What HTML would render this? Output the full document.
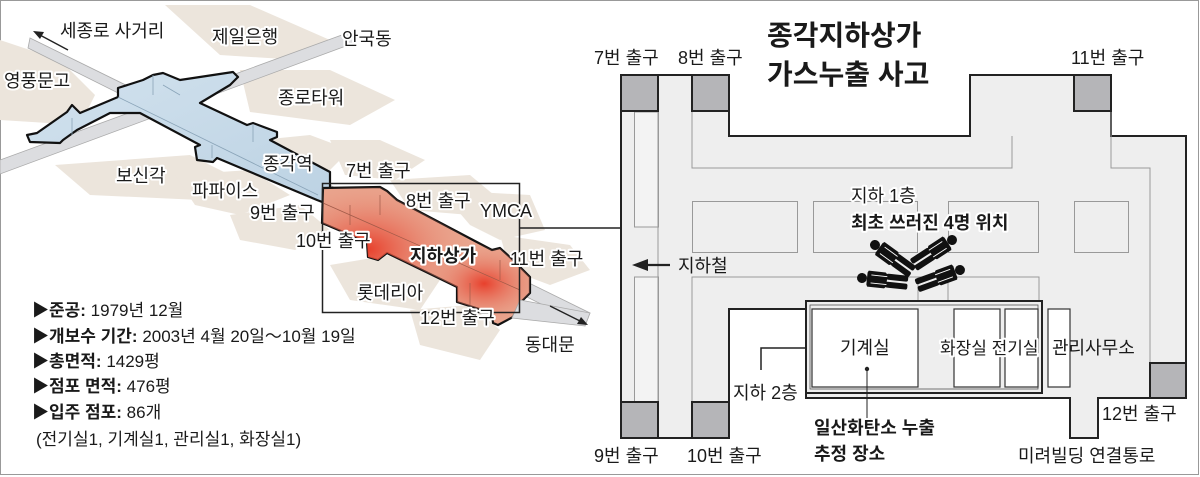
<!DOCTYPE html>
<html><head><meta charset="utf-8"><style>
html,body{margin:0;padding:0;background:#fff;}
svg{display:block;}
text{font-family:"Liberation Sans","Noto Sans CJK KR",sans-serif;fill:#1a1a1a;}
.t{font-size:18px;}
.s{font-size:17px;}
.b{font-weight:bold;}
.halo{stroke:#fff;stroke-width:4px;paint-order:stroke;stroke-linejoin:round;}
</style></head><body>
<svg width="1200" height="477" viewBox="0 0 1200 477" xmlns="http://www.w3.org/2000/svg">
<defs>
<radialGradient id="rg1" cx="0.22" cy="0.45" r="0.5"><stop offset="0" stop-color="#e8402c"/><stop offset="1" stop-color="#e89a84" stop-opacity="0"/></radialGradient>
<radialGradient id="rg2" cx="0.78" cy="0.7" r="0.3"><stop offset="0" stop-color="#e8402c"/><stop offset="1" stop-color="#e89a84" stop-opacity="0"/></radialGradient>
<linearGradient id="bl" x1="0" y1="0" x2="1" y2="1"><stop offset="0" stop-color="#d2e2ee"/><stop offset="1" stop-color="#bcd2e3"/></linearGradient>
<g id="man">
 <circle cx="0" cy="0" r="5" fill="#111"/>
 <path d="M6,-8 L23,-8 L25,-6 L25,6 L23,8 L6,8 L5,6 L5,-6 Z" fill="#111"/>
 <rect x="24" y="-7" width="22" height="6" rx="2" fill="#111"/>
 <rect x="24" y="1" width="22" height="6" rx="2" fill="#111"/>
 <line x1="9" y1="-4" x2="25" y2="-4" stroke="#fff" stroke-width="0.9"/>
 <line x1="9" y1="4" x2="25" y2="4" stroke="#fff" stroke-width="0.9"/>
</g>
</defs>
<rect x="0.5" y="0.5" width="1198" height="474" fill="#fff" stroke="#999" stroke-width="1"/>

<!-- ===== LEFT MAP ===== -->
<g fill="#ece5dc">
 <polygon points="0,40 60,60 95,95 80,125 0,120"/>
 <polygon points="165,5 250,5 330,40 300,60 220,55"/>
 <polygon points="240,70 330,70 395,100 350,125 250,112"/>
 <polygon points="260,140 310,135 350,150 330,170 285,165"/>
 <polygon points="330,140 380,140 425,160 395,180 345,175"/>
 <polygon points="55,165 190,155 240,180 200,200 90,195"/>
 <polygon points="175,175 250,170 290,195 240,215 195,205"/>
 <polygon points="230,215 300,205 330,230 295,250 240,240"/>
 <polygon points="390,180 470,175 500,200 470,215 410,210"/>
 <polygon points="440,190 530,195 545,230 500,240 470,225"/>
 <polygon points="500,235 570,245 590,270 550,285 510,270"/>
 <polygon points="330,265 390,255 440,280 420,310 350,300"/>
 <polygon points="410,310 470,305 500,330 480,360 420,345"/>
</g>
<polygon points="30,38 590,313 585,326 28,48" fill="#dcdde0" stroke="#aaa" stroke-width="0.8"/>
<polygon points="0,160 350,32 354,43 0,174" fill="#dcdde0" stroke="#aaa" stroke-width="0.8"/>
<polygon points="118,88 143,80 153,75 163,73 180,80 233,72 238,77 230,85 200,103 247,125 253,123 277,132 277,137 270,140 330,172 330,205 317,200 217,158 213,162 197,160 195,147 200,145 140,113 110,113 77,130 63,140 60,143 30,142 27,135 37,133 67,112 72,105 80,113 118,97" fill="url(#bl)" stroke="#111" stroke-width="2.2" stroke-linejoin="round"/>
<g stroke="#8aa4b8" stroke-width="0.8" fill="none">
 <line x1="118" y1="97" x2="318" y2="195"/><line x1="153" y1="75" x2="153" y2="95"/>
 <line x1="163" y1="85" x2="180" y2="95"/><line x1="212" y1="145" x2="212" y2="158"/>
 <line x1="253" y1="125" x2="253" y2="142"/><line x1="72" y1="118" x2="72" y2="135"/>
</g>
<polygon points="323,188 380,187 387,191 397,200 492,250 500,248 513,260 530,277 530,293 520,303 513,317 498,325 493,323 492,313 457,302 457,287 387,253 378,260 368,257 367,242 322,223" fill="#e9a58e" stroke="#111" stroke-width="2.2" stroke-linejoin="round"/>
<polygon points="323,188 380,187 387,191 397,200 492,250 500,248 513,260 530,277 530,293 520,303 513,317 498,325 493,323 492,313 457,302 457,287 387,253 378,260 368,257 367,242 322,223" fill="url(#rg1)"/>
<polygon points="323,188 380,187 387,191 397,200 492,250 500,248 513,260 530,277 530,293 520,303 513,317 498,325 493,323 492,313 457,302 457,287 387,253 378,260 368,257 367,242 322,223" fill="url(#rg2)"/>
<g stroke="#a05a48" stroke-width="0.7" fill="none">
 <line x1="323" y1="203" x2="520" y2="290"/><line x1="350" y1="205" x2="350" y2="225"/>
 <line x1="380" y1="195" x2="380" y2="215"/><line x1="470" y1="283" x2="470" y2="305"/>
 <line x1="500" y1="260" x2="500" y2="280"/>
</g>
<polygon points="520,300 590,313 585,326 512,318" fill="#dcdde0" stroke="#aaa" stroke-width="0.8"/>
<rect x="322.5" y="183.5" width="197" height="129" fill="none" stroke="#222" stroke-width="1.5"/>
<line x1="520" y1="228" x2="621" y2="228" stroke="#222" stroke-width="1.5"/>
<line x1="68" y1="50" x2="38" y2="34" stroke="#222" stroke-width="1.4"/>
<polygon points="33,31 44,32 40,39" fill="#222"/>
<line x1="550" y1="306" x2="582" y2="322" stroke="#222" stroke-width="1.4"/>
<polygon points="588,325 577,324 581,317" fill="#222"/>

<g class="t halo">
<text x="60" y="37">세종로 사거리</text>
<text x="212" y="43">제일은행</text>
<text x="342" y="45">안국동</text>
<text x="4" y="87">영풍문고</text>
<text x="278" y="104">종로타워</text>
<text x="263" y="170">종각역</text>
<text x="346" y="177">7번 출구</text>
<text x="116" y="182">보신각</text>
<text x="192" y="197">파파이스</text>
<text x="406" y="207">8번 출구</text>
<text x="480" y="217">YMCA</text>
<text x="250" y="219">9번 출구</text>
<text x="296" y="247">10번 출구</text>
<text x="410" y="262" class="b">지하상가</text>
<text x="510" y="265">11번 출구</text>
<text x="357" y="299">롯데리아</text>
<text x="420" y="324">12번 출구</text>
<text x="525" y="351">동대문</text>
</g>
<g class="s">
<text x="32" y="316">▶<tspan class="b">준공:</tspan> 1979년 12월</text>
<text x="32" y="342">▶<tspan class="b">개보수 기간:</tspan> 2003년 4월 20일～10월 19일</text>
<text x="32" y="367">▶<tspan class="b">총면적:</tspan> 1429평</text>
<text x="32" y="392">▶<tspan class="b">점포 면적:</tspan> 476평</text>
<text x="32" y="418">▶<tspan class="b">입주 점포:</tspan> 86개</text>
<text x="36" y="445">(전기실1, 기계실1, 관리실1, 화장실1)</text>
</g>

<!-- ===== RIGHT PLAN ===== -->
<polygon points="621,75 729,75 729,136 970,136 970,75 1111,75 1111,136 1186,136 1186,398 1098,398 1098,438 1070,438 1070,398 806,398 806,309 729,309 729,438 621,438" fill="#eeeeee" stroke="#222" stroke-width="2"/>
<g fill="none" stroke="#999" stroke-width="1">
 <rect x="634.5" y="112" width="24" height="115" fill="#f3f3f3"/>
 <rect x="634.5" y="277" width="24" height="125" fill="#f3f3f3"/>
 <polyline points="658,112 658,438"/>
 <polyline points="692,112 692,168 1012,168 1012,136"/>
 <polyline points="1111,112 1111,168 1150,168 1150,363"/>
 <rect x="692.5" y="201.5" width="105" height="51"/>
 <rect x="813.5" y="201.5" width="104" height="51"/>
 <rect x="948.5" y="201.5" width="90" height="51"/>
 <rect x="1074.5" y="201.5" width="54" height="51"/>
 <polyline points="692,402 692,277 1039,277 1039,300"/>
 <line x1="918" y1="277" x2="918" y2="300"/>
 <line x1="948" y1="277" x2="948" y2="300"/>
</g>
<g fill="#b5b5b8" stroke="#222" stroke-width="2">
 <rect x="621" y="75" width="37" height="36"/>
 <rect x="692" y="75" width="37" height="36"/>
 <rect x="1074" y="75" width="37" height="36"/>
 <rect x="1150" y="363" width="36" height="35"/>
 <rect x="621" y="402" width="37" height="36"/>
 <rect x="692" y="402" width="37" height="36"/>
</g>
<rect x="806" y="301" width="236" height="92" fill="none" stroke="#222" stroke-width="2"/>
<rect x="810" y="305" width="228" height="84" fill="none" stroke="#555" stroke-width="0.8"/>
<g fill="#fff" stroke="#333" stroke-width="1.2">
 <rect x="812" y="309" width="106" height="78"/>
 <rect x="954" y="309" width="46" height="78"/>
 <rect x="1005" y="309" width="33" height="78"/>
 <rect x="1048" y="309" width="22" height="78"/>
</g>
<polyline points="806,348 761,348 761,370" fill="none" stroke="#222" stroke-width="1.5"/>
<circle cx="867" cy="369" r="2.2" fill="#222"/>
<line x1="867" y1="369" x2="867" y2="418" stroke="#222" stroke-width="1"/>
<line x1="647" y1="265" x2="670" y2="265" stroke="#222" stroke-width="2.2"/>
<polygon points="632,265 648,259 648,271" fill="#222"/>

<use href="#man" transform="translate(875,245) rotate(36)"/>
<use href="#man" transform="translate(952,240) rotate(147)"/>
<use href="#man" transform="translate(862,278) rotate(6)"/>
<use href="#man" transform="translate(960,270) rotate(160)"/>

<g class="t">
<text x="594" y="64">7번 출구</text>
<text x="678" y="64">8번 출구</text>
<text x="1071" y="64">11번 출구</text>
<text x="1102" y="420">12번 출구</text>
<text x="594" y="462">9번 출구</text>
<text x="687" y="462">10번 출구</text>
<text x="1018" y="462">미려빌딩 연결통로</text>
<text x="678" y="272">지하철</text>
<text x="733" y="399">지하 2층</text>
<text x="840" y="354">기계실</text>
<text x="940" y="354" class="halo s">화장실 전기실</text>
<text x="1052" y="354">관리사무소</text>
<text x="851" y="202" class="halo">지하 1층</text>
<text x="851" y="229" class="b halo">최초 쓰러진 4명 위치</text>
<text x="814" y="434" class="b">일산화탄소 누출</text>
<text x="814" y="460" class="b">추정 장소</text>
</g>
<text x="767" y="45" class="b" style="font-size:28px">종각지하상가</text>
<text x="767" y="84" class="b" style="font-size:28px">가스누출 사고</text>
</svg>
</body></html>
